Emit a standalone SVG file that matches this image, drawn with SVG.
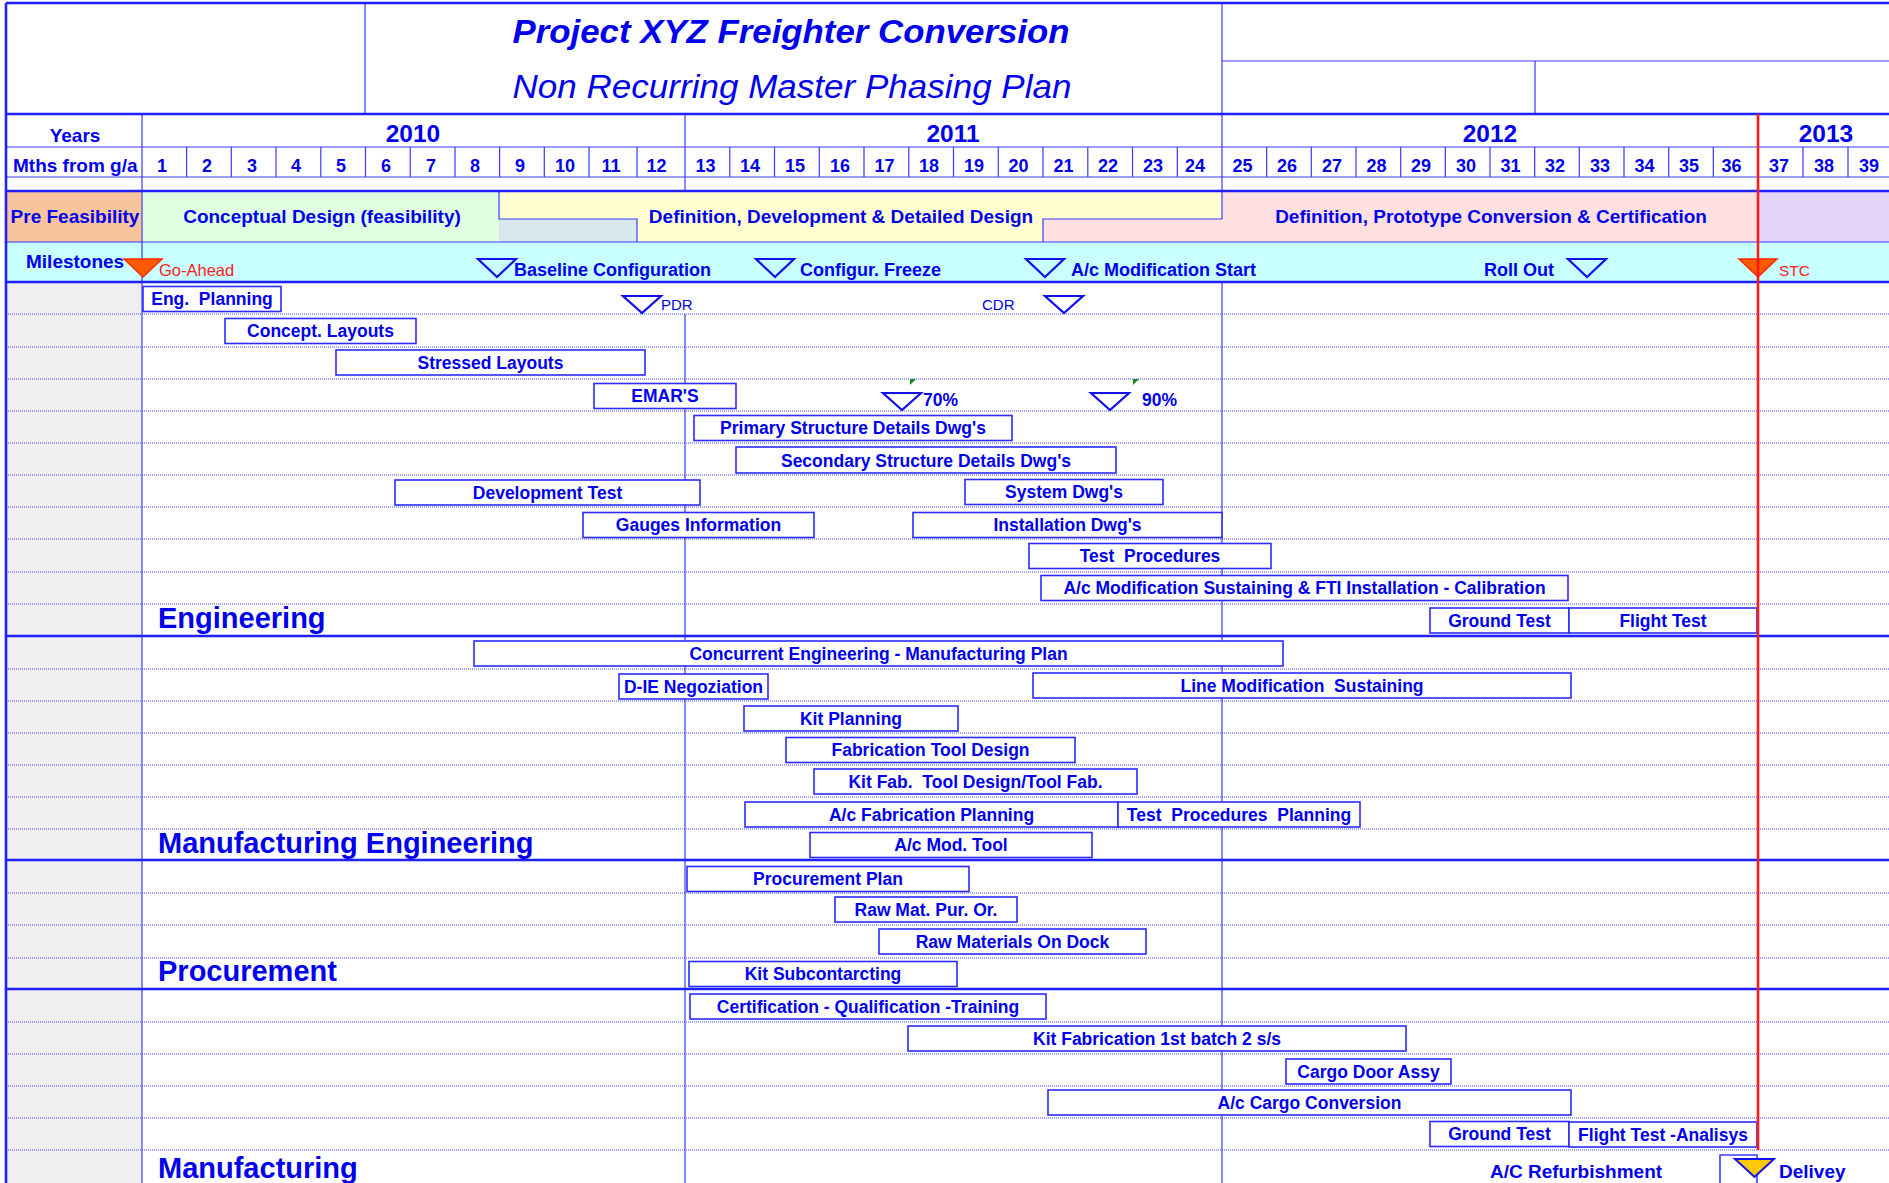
<svg xmlns="http://www.w3.org/2000/svg" width="1889" height="1183" viewBox="0 0 1889 1183">
  <style>
    text { font-family: "Liberation Sans", Arial, sans-serif; fill: #0000ee; }
    .b { font-weight: bold; }
    .title { font-size: 34px; font-weight: bold; font-style: italic; }
    .subtitle { font-size: 33px; font-style: italic; }
    .yr { font-size: 24.5px; font-weight: bold; text-anchor: middle; }
    .mo { font-size: 18px; font-weight: bold; text-anchor: middle; }
    .hdr { font-size: 19px; font-weight: bold; }
    .phase { font-size: 19px; font-weight: bold; text-anchor: middle; }
    .ml { font-size: 18px; font-weight: bold; }
    .mlred { font-size: 16.5px; fill: #ff1a1a; }
    .mlsm { font-size: 15px; }
    .sect { font-size: 29px; font-weight: bold; }
    .bar rect { fill: #ffffff; stroke: #2b2bff; stroke-width: 1.6; }
    .bar text { font-size: 17.5px; font-weight: bold; text-anchor: middle; }
    .thin { stroke: #3b3bff; stroke-width: 1.2; fill: none; }
    .thick { stroke: #1f1fff; stroke-width: 2.6; fill: none; }
    .dot { stroke: #4a4aff; stroke-width: 1; stroke-dasharray: 1 1; fill: none; }
    .ms { fill: none; stroke: #1010f0; stroke-width: 2.2; stroke-linejoin: miter; }
    .msred { fill: #ff5a00; stroke: #ff2a00; stroke-width: 1.5; }
  </style>

  <!-- backgrounds -->
  <rect x="0" y="0" width="1889" height="1183" fill="#ffffff"/>
  <g id="phase-bands">
    <rect x="6" y="191" width="136" height="51" fill="#f7c49b"/>
    <rect x="142" y="191" width="357" height="51" fill="#e0ffe0"/>
    <rect x="499" y="219" width="138" height="23" fill="#d9e8ec"/>
    <polygon points="499,191 1222,191 1222,219 1043,219 1043,242 637,242 637,219 499,219" fill="#ffffd2"/>
    <polygon points="1222,191 1758,191 1758,242 1043,242 1043,219 1222,219" fill="#ffe0e0"/>
    <rect x="1758" y="191" width="131" height="51" fill="#e4d2fa"/>
    <rect x="6" y="242" width="1883" height="40" fill="#c8ffff"/>
  </g>
  <rect x="6" y="282" width="136" height="901" fill="#efefef"/>

  <!-- table grid -->
  <g id="grid">
    <!-- dotted row separators -->
    <path class="dot" d="M6 314H1889M6 347H1889M6 379H1889M6 411H1889M6 443H1889M6 475H1889M6 507H1889M6 539H1889M6 572H1889M6 604H1889
                         M6 669H1889M6 701H1889M6 733H1889M6 765H1889M6 797H1889M6 829H1889
                         M6 893H1889M6 925H1889M6 958H1889
                         M6 1022H1889M6 1054H1889M6 1086H1889M6 1118H1889M6 1150H1889"/>
    <!-- header thin lines -->
    <path class="thin" d="M1222 61H1889M1535 61V114M142 147H1889M142 177H1889M6 147H142M6 177H142M6 242H1889"/>
    <!-- month cell dividers -->
    <path class="thin" d="M186.6 147V177M231.3 147V177M276 147V177M320.8 147V177M365.5 147V177M410.2 147V177M455 147V177M499.6 147V177M544.3 147V177M589 147V177M637 147V177
                          M729.8 147V177M774.5 147V177M819.3 147V177M864 147V177M908.8 147V177M953.5 147V177M998.3 147V177M1043 147V177M1087.8 147V177M1132.5 147V177M1177.3 147V177
                          M1266.7 147V177M1311.3 147V177M1356 147V177M1400.7 147V177M1445.3 147V177M1490 147V177M1534.7 147V177M1579.3 147V177M1624 147V177M1668.7 147V177M1713.3 147V177
                          M1803 147V177M1848 147V177"/>
    <!-- main verticals -->
    <path class="thin" d="M365 3V114M142 114V1183M685 114V191M685 314V1183M1222 3V219M1222 282V1183"/>
    <!-- phase step outlines -->
    <path class="thin" d="M499 191V219H637V242M1043 242V219H1222"/>
    <!-- heavy rules -->
    <path class="thick" d="M6 3H1889M6 114H1889M6 191H1889M6 282H1889M6 636H1889M6 860H1889M6 989H1889M6 3V1183"/>
  </g>

  <!-- title block -->
  <g id="title">
    <text class="title" x="791" y="43" text-anchor="middle" textLength="557" lengthAdjust="spacingAndGlyphs">Project XYZ Freighter Conversion</text>
    <text class="subtitle" x="792" y="98" text-anchor="middle" textLength="559" lengthAdjust="spacingAndGlyphs">Non Recurring Master Phasing Plan</text>
  </g>

  <!-- time scale -->
  <g id="timescale">
    <text class="hdr" x="75" y="142" text-anchor="middle">Years</text>
    <text class="hdr" x="13" y="172">Mths from g/a</text>
    <text class="yr" x="413" y="142">2010</text>
    <text class="yr" x="953" y="142">2011</text>
    <text class="yr" x="1490" y="142">2012</text>
    <text class="yr" x="1826" y="142">2013</text>
    <text class="mo" y="172">
      <tspan x="162">1</tspan><tspan x="207">2</tspan><tspan x="252">3</tspan><tspan x="296">4</tspan><tspan x="341">5</tspan><tspan x="386">6</tspan><tspan x="431">7</tspan><tspan x="475">8</tspan><tspan x="520">9</tspan><tspan x="565">10</tspan><tspan x="611">11</tspan><tspan x="659">12</tspan>
      <tspan x="705.5">13</tspan><tspan x="750">14</tspan><tspan x="795">15</tspan><tspan x="840">16</tspan><tspan x="884.5">17</tspan><tspan x="929">18</tspan><tspan x="974">19</tspan><tspan x="1018.5">20</tspan><tspan x="1063.5">21</tspan><tspan x="1108">22</tspan><tspan x="1153">23</tspan><tspan x="1197.5">24</tspan>
      <tspan x="1242.5">25</tspan><tspan x="1287">26</tspan><tspan x="1332">27</tspan><tspan x="1376.5">28</tspan><tspan x="1421">29</tspan><tspan x="1466">30</tspan><tspan x="1510.5">31</tspan><tspan x="1555">32</tspan><tspan x="1600">33</tspan><tspan x="1644.5">34</tspan><tspan x="1689">35</tspan><tspan x="1734">36</tspan>
      <tspan x="1779">37</tspan><tspan x="1824">38</tspan><tspan x="1869">39</tspan>
    </text>
  </g>

  <!-- programme phases -->
  <g id="phases">
    <text class="phase" x="75" y="223">Pre Feasibility</text>
    <text class="phase" x="322" y="223">Conceptual Design (feasibility)</text>
    <text class="phase" x="841" y="223">Definition, Development &amp; Detailed Design</text>
    <text class="phase" x="1491" y="223">Definition, Prototype Conversion &amp; Certification</text>
  </g>

  <!-- milestones -->
  <g id="milestones">
    <text class="hdr" x="26" y="268">Milestones</text>
    <g id="ms-go-ahead">
      <polygon class="msred" points="124,259 162,259 143,277"/>
      <text class="mlred" x="159" y="276">Go-Ahead</text>
    </g>
    <g id="ms-baseline">
      <polygon class="ms" points="478,259 516,259 497,277"/>
      <text class="ml" x="514" y="276">Baseline Configuration</text>
    </g>
    <g id="ms-freeze">
      <polygon class="ms" points="756,259 794,259 775,277"/>
      <text class="ml" x="800" y="276">Configur. Freeze</text>
    </g>
    <g id="ms-mod-start">
      <polygon class="ms" points="1026,259 1064,259 1045,277"/>
      <text class="ml" x="1071" y="276">A/c Modification Start</text>
    </g>
    <g id="ms-roll-out">
      <text class="ml" x="1484" y="276">Roll Out</text>
      <polygon class="ms" points="1568,259 1606,259 1587,277"/>
    </g>
    <g id="ms-stc">
      <polygon class="msred" points="1739,259 1777,259 1758,277"/>
      <text class="mlred" x="1779" y="276" style="font-size:15.5px">STC</text>
    </g>
    <g id="ms-pdr">
      <polygon class="ms" points="623,296 661,296 642,313"/>
      <text class="mlsm" x="661" y="310">PDR</text>
    </g>
    <g id="ms-cdr">
      <text class="mlsm" x="982" y="310">CDR</text>
      <polygon class="ms" points="1045,296 1083,296 1064,313"/>
    </g>
    <g id="ms-70">
      <polygon points="910,379 916,379 910,385" fill="#1a8a1a"/>
      <polygon class="ms" points="883,393 921,393 902,410"/>
      <text class="ml" x="923" y="406" style="font-size:17.5px">70%</text>
    </g>
    <g id="ms-90">
      <polygon points="1133,379 1139,379 1133,385" fill="#1a8a1a"/>
      <polygon class="ms" points="1091,393 1129,393 1110,410"/>
      <text class="ml" x="1142" y="406" style="font-size:17.5px">90%</text>
    </g>
  </g>

  <!-- Engineering -->
  <g id="engineering">
    <text class="sect" x="158" y="628">Engineering</text>
    <g id="eng-planning" class="bar"><rect x="143" y="286.5" width="138" height="25"/><text x="212" y="305">Eng.&#160; Planning</text></g>
    <g id="concept-layouts" class="bar"><rect x="225" y="318.5" width="191" height="25"/><text x="320.5" y="337">Concept. Layouts</text></g>
    <g id="stressed-layouts" class="bar"><rect x="336" y="350" width="309" height="25"/><text x="490.5" y="369">Stressed Layouts</text></g>
    <g id="emars" class="bar"><rect x="594" y="383.5" width="142" height="25"/><text x="665" y="402">EMAR'S</text></g>
    <g id="primary-structure" class="bar"><rect x="694" y="415.5" width="318" height="25"/><text x="853" y="434">Primary Structure Details Dwg's</text></g>
    <g id="secondary-structure" class="bar"><rect x="736" y="447" width="380" height="26"/><text x="926" y="466.5">Secondary Structure Details Dwg's</text></g>
    <g id="development-test" class="bar"><rect x="395" y="480" width="305" height="25"/><text x="547.5" y="498.5">Development Test</text></g>
    <g id="system-dwgs" class="bar"><rect x="965" y="479.5" width="198" height="25"/><text x="1064" y="498">System Dwg's</text></g>
    <g id="gauges-info" class="bar"><rect x="583" y="512.5" width="231" height="25"/><text x="698.5" y="531">Gauges Information</text></g>
    <g id="installation-dwgs" class="bar"><rect x="913" y="512.5" width="309" height="25"/><text x="1067.5" y="531">Installation Dwg's</text></g>
    <g id="test-procedures" class="bar"><rect x="1029" y="543.5" width="242" height="25"/><text x="1150" y="562" xml:space="preserve">Test  Procedures</text></g>
    <g id="mod-sustaining-fti" class="bar"><rect x="1041" y="575.5" width="527" height="25"/><text x="1304.5" y="594">A/c Modification Sustaining &amp; FTI Installation - Calibration</text></g>
    <g id="eng-ground-test" class="bar"><rect x="1430" y="608" width="139" height="25"/><text x="1499.5" y="626.5">Ground Test</text></g>
    <g id="eng-flight-test" class="bar"><rect x="1569" y="608" width="188" height="25"/><text x="1663" y="626.5">Flight Test</text></g>
  </g>

  <!-- Manufacturing Engineering -->
  <g id="manufacturing-engineering">
    <text class="sect" x="158" y="853">Manufacturing Engineering</text>
    <g id="concurrent-eng" class="bar"><rect x="474" y="641" width="809" height="25"/><text x="878.5" y="659.5">Concurrent Engineering - Manufacturing Plan</text></g>
    <g id="die-negoziation" class="bar"><rect x="619" y="674" width="149" height="25"/><text x="693.5" y="692.5">D-IE Negoziation</text></g>
    <g id="line-mod-sustaining" class="bar"><rect x="1033" y="673" width="538" height="25"/><text x="1302" y="691.5" xml:space="preserve">Line Modification  Sustaining</text></g>
    <g id="kit-planning" class="bar"><rect x="744" y="706" width="214" height="25"/><text x="851" y="724.5">Kit Planning</text></g>
    <g id="fab-tool-design" class="bar"><rect x="786" y="737.5" width="289" height="25"/><text x="930.5" y="756">Fabrication Tool Design</text></g>
    <g id="kit-fab-tool" class="bar"><rect x="814" y="769" width="323" height="25"/><text x="975.5" y="787.5" xml:space="preserve">Kit Fab.  Tool Design/Tool Fab.</text></g>
    <g id="ac-fab-planning" class="bar"><rect x="745" y="802" width="373" height="25"/><text x="931.5" y="820.5">A/c Fabrication Planning</text></g>
    <g id="test-proc-planning" class="bar"><rect x="1118" y="802" width="242" height="25"/><text x="1239" y="820.5" xml:space="preserve">Test  Procedures  Planning</text></g>
    <g id="ac-mod-tool" class="bar"><rect x="810" y="832.5" width="282" height="25"/><text x="951" y="851">A/c Mod. Tool</text></g>
  </g>

  <!-- Procurement -->
  <g id="procurement">
    <text class="sect" x="158" y="981">Procurement</text>
    <g id="procurement-plan" class="bar"><rect x="687" y="866.5" width="282" height="25"/><text x="828" y="885">Procurement Plan</text></g>
    <g id="raw-mat-pur" class="bar"><rect x="835" y="897" width="182" height="25"/><text x="926" y="915.5">Raw Mat. Pur. Or.</text></g>
    <g id="raw-mat-dock" class="bar"><rect x="879" y="929" width="267" height="25"/><text x="1012.5" y="947.5">Raw Materials On Dock</text></g>
    <g id="kit-subcontracting" class="bar"><rect x="689" y="961.5" width="268" height="25"/><text x="823" y="980">Kit Subcontarcting</text></g>
  </g>

  <!-- Manufacturing -->
  <g id="manufacturing">
    <text class="sect" x="158" y="1178">Manufacturing</text>
    <g id="cert-qual-training" class="bar"><rect x="690" y="994" width="356" height="25"/><text x="868" y="1012.5">Certification - Qualification -Training</text></g>
    <g id="kit-fab-batch" class="bar"><rect x="908" y="1026" width="498" height="25"/><text x="1157" y="1044.5">Kit Fabrication 1st batch 2 s/s</text></g>
    <g id="cargo-door" class="bar"><rect x="1286" y="1059" width="165" height="25"/><text x="1368.5" y="1077.5">Cargo Door Assy</text></g>
    <g id="cargo-conversion" class="bar"><rect x="1048" y="1090" width="523" height="25"/><text x="1309.5" y="1108.5">A/c Cargo Conversion</text></g>
    <g id="mfg-ground-test" class="bar"><rect x="1430" y="1121.5" width="139" height="25"/><text x="1499.5" y="1140">Ground Test</text></g>
    <g id="mfg-flight-test" class="bar"><rect x="1569" y="1122" width="188" height="25"/><text x="1663" y="1140.5">Flight Test -Analisys</text></g>
    <text class="b" x="1490" y="1178" style="font-size:19px">A/C Refurbishment</text>
    <g id="ms-delivery">
      <path class="thin" d="M1720 1183V1155H1757V1183" style="stroke-width:1.6"/>
      <polygon points="1735,1159 1774,1159 1754.5,1177" fill="#ffc800" stroke="#1010f0" stroke-width="2"/>
      <text class="b" x="1779" y="1178" style="font-size:19px">Delivey</text>
    </g>
  </g>

  <!-- STC date line -->
  <g id="connectors">
    <line x1="1758" y1="114" x2="1758" y2="1150" stroke="#ff1a1a" stroke-width="2.6"/>
  </g>
</svg>
